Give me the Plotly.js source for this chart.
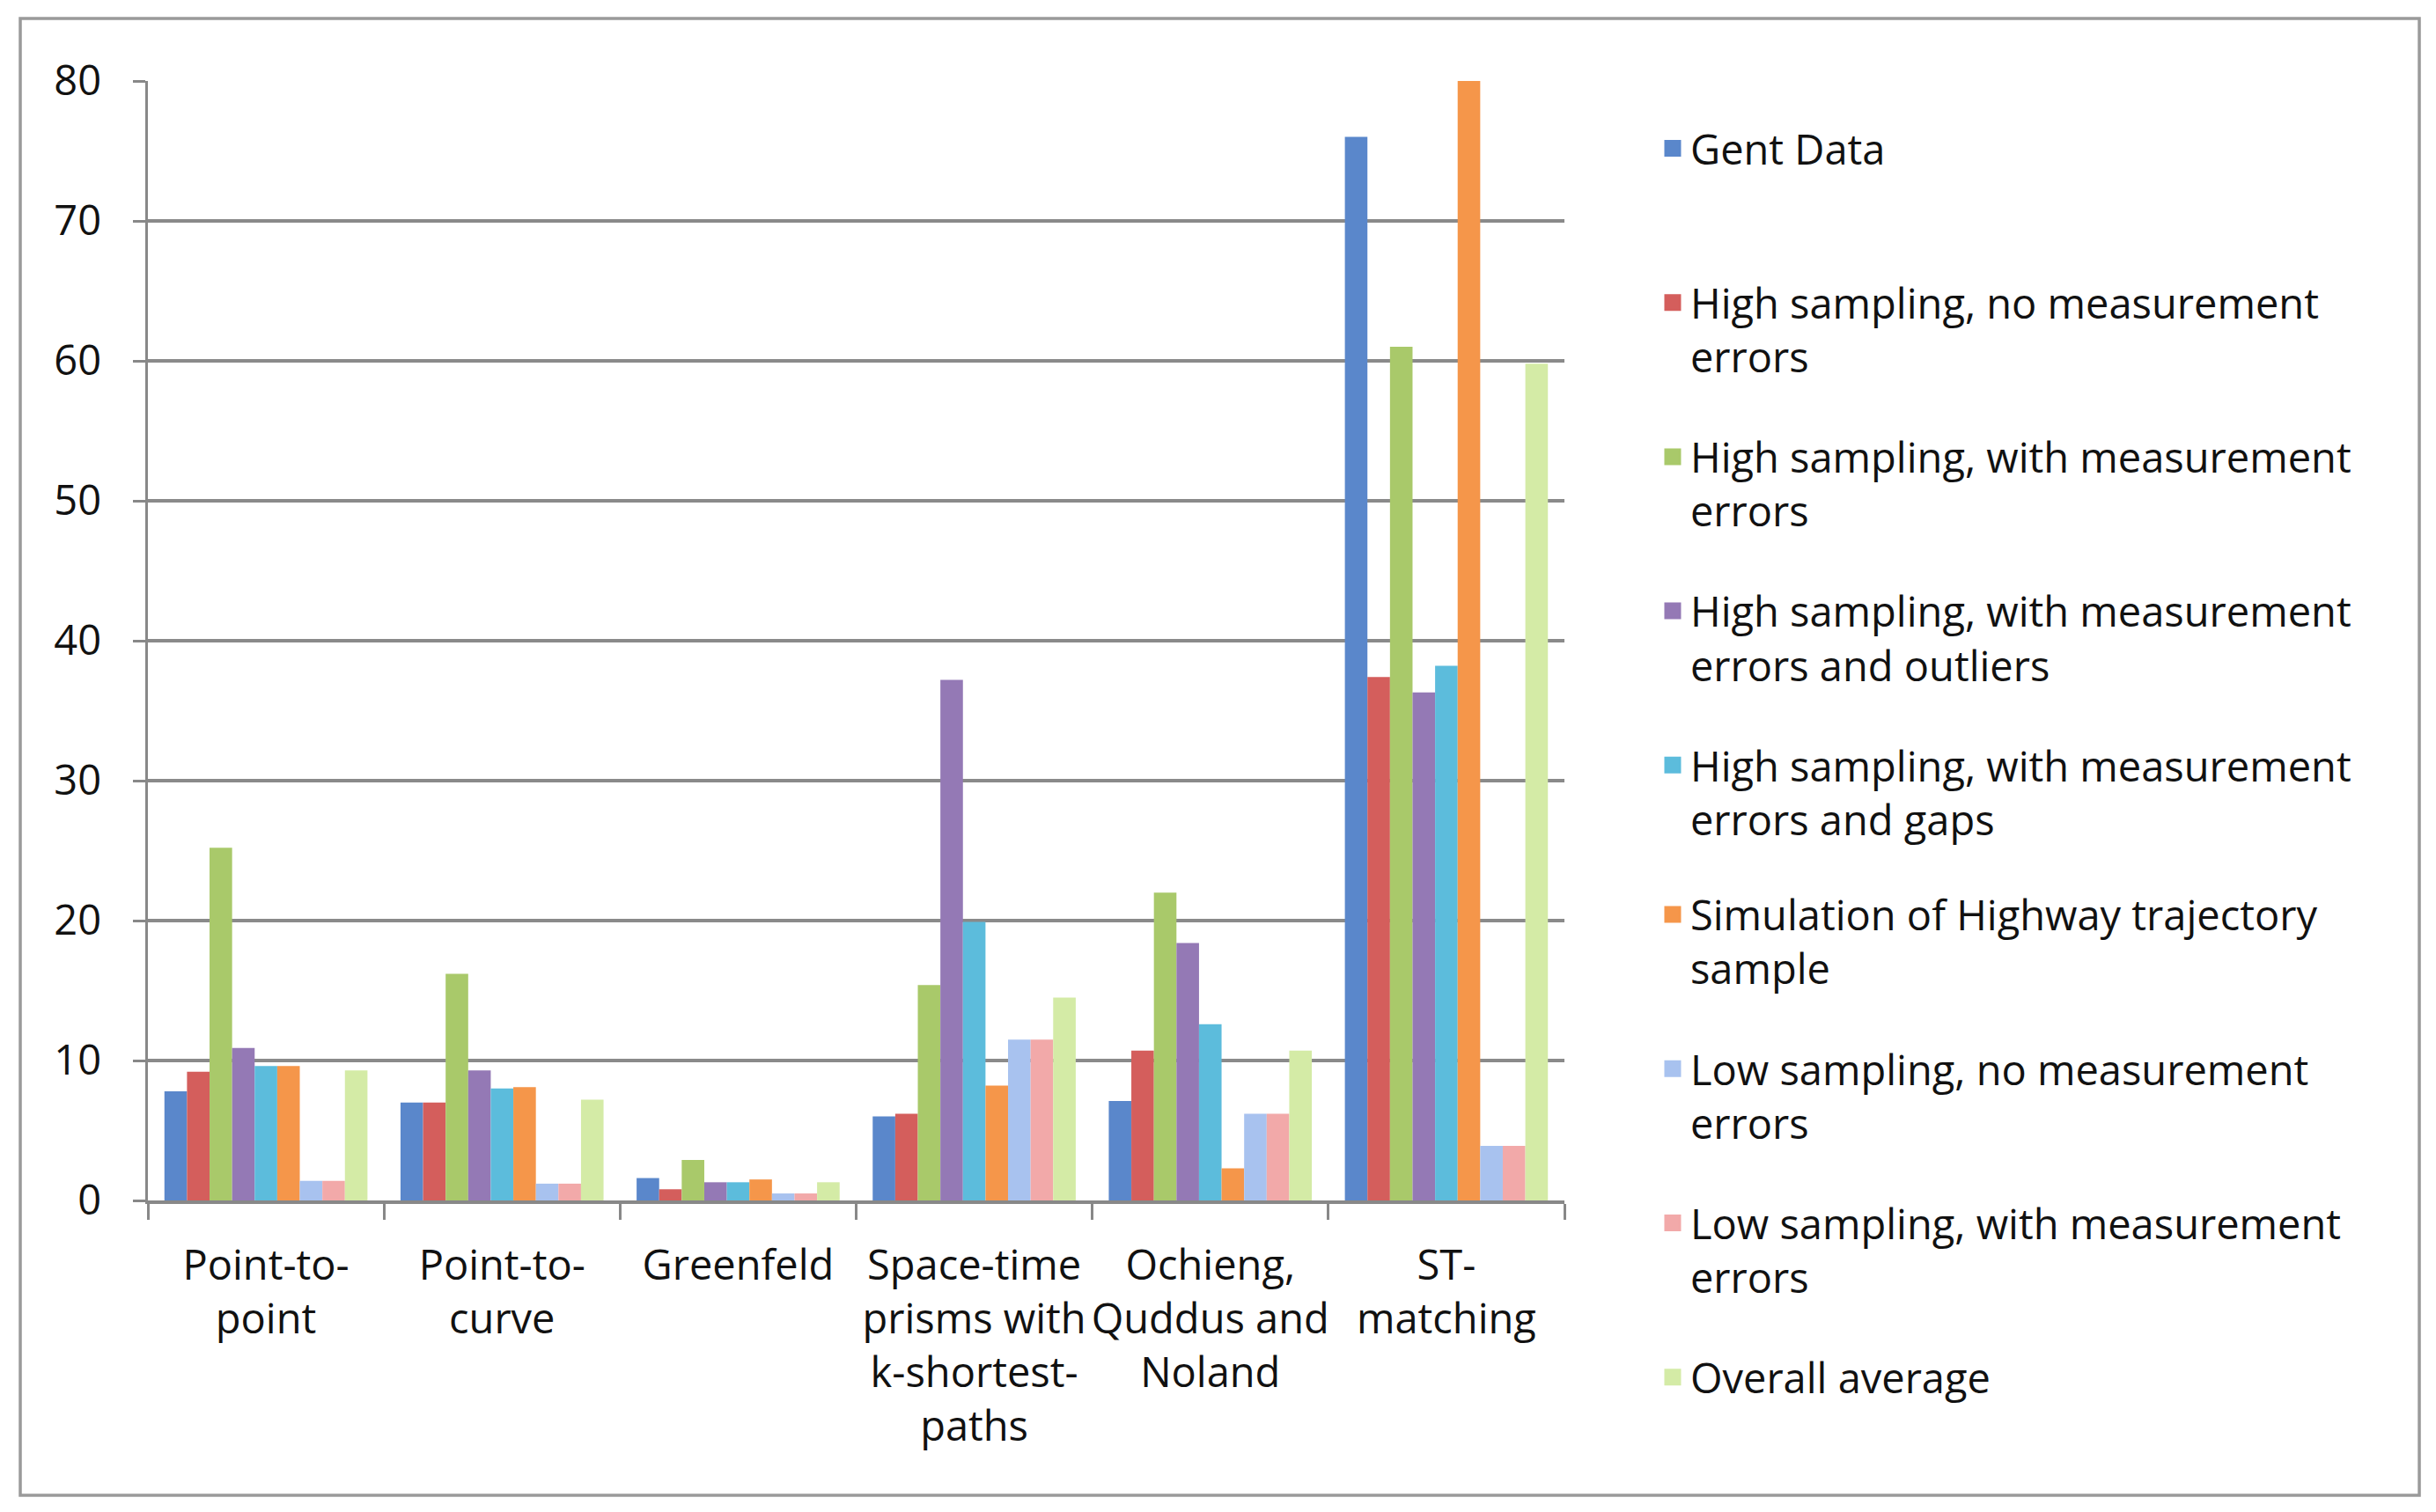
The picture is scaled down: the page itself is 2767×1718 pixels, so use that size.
<!DOCTYPE html>
<html>
<head>
<meta charset="utf-8">
<script src="https://cdn.plot.ly/plotly-3.0.1.min.js"></script>
<style>
  html, body { margin: 0; padding: 0; background: #fff; }
  #chart { width: 2767px; height: 1718px; }
</style>
</head>
<body>
<div id="chart"></div>
<script>
// Map-matching algorithms: values per test dataset

const CATEGORIES = [
  'Point-to-<br>point',
  'Point-to-<br>curve',
  'Greenfeld',
  'Space-time<br>prisms with<br>k-shortest-<br>paths',
  'Ochieng,<br>Quddus and<br>Noland',
  'ST-<br>matching',
];

const GENT_DATA          = [7.8, 7.0, 1.6, 6.0, 7.1, 76.0];
const HIGH_NO_ERR        = [9.2, 7.0, 0.8, 6.2, 10.7, 37.4];
const HIGH_ERR           = [25.2, 16.2, 2.9, 15.4, 22.0, 61.0];
const HIGH_ERR_OUTLIERS  = [10.9, 9.3, 1.3, 37.2, 18.4, 36.3];
const HIGH_ERR_GAPS      = [9.6, 8.0, 1.3, 19.9, 12.6, 38.2];
const HIGHWAY_SIM        = [9.6, 8.1, 1.5, 8.2, 2.3, 80.0];
const LOW_NO_ERR         = [1.4, 1.2, 0.5, 11.5, 6.2, 3.9];
const LOW_ERR            = [1.4, 1.2, 0.5, 11.5, 6.2, 3.9];
const OVERALL_AVG        = [9.3, 7.2, 1.3, 14.5, 10.7, 59.8];

const Y_TICKS = [0, 10, 20, 30, 40, 50, 60, 70, 80];

const SERIES = [
  { name: 'Gent Data<br>\u00a0',                                    y: GENT_DATA,         color: '#5A87CB' },
  { name: 'High sampling, no measurement<br>errors',                y: HIGH_NO_ERR,       color: '#D45E5C' },
  { name: 'High sampling, with measurement<br>errors',              y: HIGH_ERR,          color: '#A9C96A' },
  { name: 'High sampling, with measurement<br>errors and outliers', y: HIGH_ERR_OUTLIERS, color: '#9479B5' },
  { name: 'High sampling, with measurement<br>errors and gaps',     y: HIGH_ERR_GAPS,     color: '#5CBCDC' },
  { name: 'Simulation of Highway trajectory<br>sample',             y: HIGHWAY_SIM,       color: '#F5964A' },
  { name: 'Low sampling, no measurement<br>errors',                 y: LOW_NO_ERR,        color: '#A8C2EF' },
  { name: 'Low sampling, with measurement<br>errors',               y: LOW_ERR,           color: '#F2A9A9' },
  { name: 'Overall average',                                        y: OVERALL_AVG,       color: '#D4EBA6' },
];

const FONT = { family: 'Open Sans, Noto Sans, sans-serif', color: '#111', size: 47 };

// the bars themselves
const bars = SERIES.map((s, i) => ({
  type: 'bar',
  name: s.name,
  x: CATEGORIES,
  y: s.y,
  legendgroup: 'g' + i,
  showlegend: false,
  marker: { color: s.color, line: { width: 0 } },
  hoverinfo: 'skip',
}));

// legend-only entries, so the swatches can be bigger than the bar default;
// split over two legends because one legend is capped at the plot height
const keys = SERIES.map((s, i) => ({
  type: 'scatter',
  mode: 'markers',
  name: s.name,
  x: [null],
  y: [null],
  legendgroup: 'g' + i,
  legend: i < 5 ? 'legend' : 'legend2',
  marker: { symbol: 'square', size: 16, color: s.color, line: { color: s.color, width: 3 } },
  hoverinfo: 'skip',
}));

const LEGEND_BASE = {
  x: 1.064, xanchor: 'left', yanchor: 'top',
  valign: 'top',
  itemwidth: 30,
  itemsizing: 'trace',
  tracegroupgap: 50,
  font: FONT,
  bgcolor: 'rgba(0,0,0,0)',
};

const layout = {
  width: 2767,
  height: 1718,
  paper_bgcolor: '#fff',
  plot_bgcolor: '#fff',
  font: FONT,
  margin: { l: 168, r: 990, t: 92, b: 354 },
  barmode: 'group',
  bargap: 0.14,
  bargroupgap: 0,
  showlegend: true,
  legend: Object.assign({}, LEGEND_BASE, { y: 0.969 }),
  legend2: Object.assign({}, LEGEND_BASE, { y: 0.2846 }),
  xaxis: {
    type: 'category',
    tickson: 'boundaries',
    tickangle: 0,
    ticks: 'outside',
    ticklen: 18,
    tickwidth: 3,
    tickcolor: '#888',
    showline: true,
    linecolor: '#888',
    linewidth: 3.5,
    showgrid: false,
    ticklabelstandoff: 30,
    tickfont: FONT,
    fixedrange: true,
  },
  yaxis: {
    range: [0, 80],
    tickvals: Y_TICKS,
    ticks: 'outside',
    ticklen: 14,
    tickwidth: 3,
    tickcolor: '#888',
    showline: true,
    linecolor: '#888',
    linewidth: 3.5,
    gridcolor: '#8a8a8a',
    gridwidth: 3.5,
    zeroline: false,
    ticklabelstandoff: 26,
    tickfont: FONT,
    fixedrange: true,
  },
  shapes: [{
    type: 'rect', xref: 'paper', yref: 'paper', layer: 'below',
    x0: -0.0901, x1: 1.6035, y0: -0.2634, y1: 1.0558,
    line: { color: '#9a9a9a', width: 3.5 },
    fillcolor: 'rgba(0,0,0,0)',
  }],
};

Plotly.newPlot('chart', bars.concat(keys), layout, { displayModeBar: false, staticPlot: true });
</script>
</body>
</html>
